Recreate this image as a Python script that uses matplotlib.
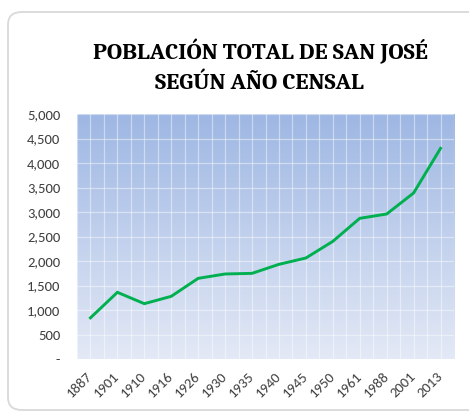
import matplotlib
matplotlib.use("Agg")
import matplotlib.pyplot as plt
import numpy as np
from matplotlib.patches import FancyBboxPatch
from matplotlib.colors import LinearSegmentedColormap
from matplotlib.ticker import FuncFormatter

years = ["1887", "1901", "1910", "1916", "1926", "1930", "1935", "1940",
         "1945", "1950", "1961", "1988", "2001", "2013"]
population = [840, 1361, 1129, 1279, 1646, 1735, 1748, 1932,
              2061, 2401, 2871, 2959, 3388, 4299]
y_ticks = [0, 500, 1000, 1500, 2000, 2500, 3000, 3500, 4000, 4500, 5000]
title_lines = ["POBLACIÓN TOTAL DE SAN JOSÉ", "SEGÚN AÑO CENSAL"]

W, H = 469, 412
fig = plt.figure(figsize=(W / 100, H / 100), dpi=100)
fig.patch.set_facecolor("white")

# rounded chart border
border = FancyBboxPatch((8 / W, 1 - 410 / H), (W + 20 - 8) / W, (410 - 12) / H,
                        boxstyle="round,pad=0,rounding_size=0.03",
                        transform=fig.transFigure, facecolor="none",
                        edgecolor="#D9D9D9", linewidth=1.3, zorder=-1)
fig.patches.append(border)

left, right, top, bottom = 77, 454, 114, 359
ax = fig.add_axes([left / W, 1 - bottom / H, (right - left) / W, (bottom - top) / H])
ax.set_facecolor("none")

# gradient background
cmap = LinearSegmentedColormap.from_list("g", ["#E3E9F6", "#9EB7E3"])
grad = np.linspace(0, 1, 256).reshape(-1, 1)
ax.imshow(grad, cmap=cmap, aspect="auto", extent=[0, 1, 0, 1],
          origin="lower", transform=ax.transAxes, zorder=0)

x = np.arange(len(years))
ax.set_xlim(-0.5, len(years) - 0.5)
ax.set_ylim(0, 5000)

# gridlines
for yv in y_ticks:
    ax.axhline(yv, color="white", alpha=0.45, lw=0.9, zorder=1)
for xv in np.arange(-0.5, len(years), 0.5):
    ax.axvline(xv, color="white", alpha=0.45, lw=0.9, zorder=1)

ax.plot(x, population, color="#00B050", lw=2.1, zorder=3,
        solid_joinstyle="miter")

ax.set_yticks(y_ticks)
ax.yaxis.set_major_formatter(FuncFormatter(lambda v, p: "-" if v == 0 else f"{int(v):,}"))
ax.set_xticks(x)
ax.set_xticklabels(years, rotation=45, ha="right", va="center",
                   rotation_mode="anchor")
ax.tick_params(axis="both", length=0, labelsize=10.5, colors="#404040")
ax.tick_params(axis="y", pad=12)
ax.tick_params(axis="x", pad=11)
for lab in ax.get_xticklabels() + ax.get_yticklabels():
    lab.set_fontfamily(["Carlito", "DejaVu Sans"])
for s in ax.spines.values():
    s.set_visible(False)

tfam = ["Caladea", "DejaVu Serif"]
fig.canvas.draw()
tmp = fig.text(0, 0, title_lines[0], fontsize=14, fontweight="bold", family=tfam)
wpx = tmp.get_window_extent(fig.canvas.get_renderer()).width
tmp.remove()
tsize = 14 * 335 / wpx
fig.text(260 / W, 1 - 59 / H, title_lines[0], ha="center", va="baseline",
         fontsize=tsize, fontweight="bold", family=tfam, color="black")
fig.text(259 / W, 1 - 89 / H, title_lines[1], ha="center", va="baseline",
         fontsize=tsize, fontweight="bold", family=tfam, color="black")

fig.savefig("out.png", dpi=100)
